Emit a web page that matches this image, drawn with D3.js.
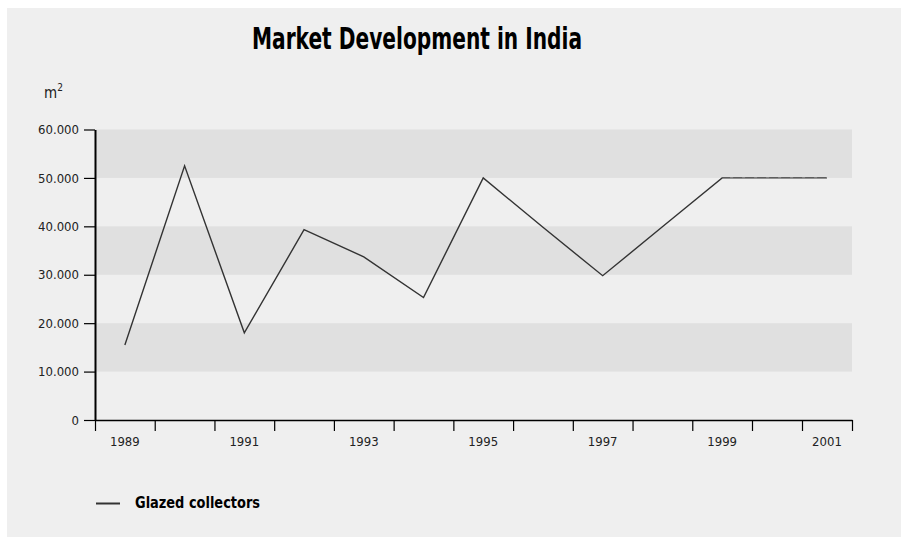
<!DOCTYPE html>
<html>
<head>
<meta charset="utf-8">
<script src="https://cdn.jsdelivr.net/npm/d3@7"></script>
<style>
    body { margin: 0; background: #fff; }
    svg { display: block; font-family: "Liberation Sans Narrow", "DejaVu Sans Condensed", "Arial Narrow", sans-serif; }
</style>
</head>
<body>
<svg id="chart" width="901" height="537"></svg>
<script>
// Data
const years = [1989, 1990, 1991, 1992, 1993, 1994, 1995, 1996, 1997, 1998, 1999, 2000, 2001];
const glazed = [15500, 52500, 18000, 39300, 33700, 25300, 50000, 39800, 29800, 39900, 50000, 50000, 50000];
const estimatedFrom = 1999;   // flat tail drawn with dotted overlay
const yTicks = [0, 10000, 20000, 30000, 40000, 50000, 60000];
const labelYears = [1989, 1991, 1993, 1995, 1997, 1999, 2001];
const bands = [[10000, 20000], [30000, 40000], [50000, 60000]];

const svg = d3.select('#chart');

// Panel background
svg.append('rect')
    .attr('x', 7).attr('y', 8)
    .attr('width', 894).attr('height', 529)
    .style('fill', '#efefef');

// Scales - last two year slots are narrower in the original
const x = d3.scaleLinear()
    .domain([1988.5, 1999.5, 2001.5])
    .range([95, 752, 852]);
const y = d3.scaleLinear()
    .domain([0, 60000])
    .range([420, 129.5]);

const fmt = d3.formatLocale({ decimal: ',', thousands: '.', grouping: [3], currency: ['', ''] }).format(',');

// Alternating bands
svg.selectAll('.band')
    .data(bands)
    .enter()
    .append('rect')
    .attr('x', x(1988.5))
    .attr('width', x(2001.5) - x(1988.5))
    .attr('y', d => y(d[1]))
    .attr('height', d => y(d[0]) - y(d[1]))
    .style('fill', '#e0e0e0');

// Title
svg.append('text')
    .attr('x', 417)
    .attr('y', 49)
    .attr('text-anchor', 'middle')
    .attr('textLength', 330)
    .attr('lengthAdjust', 'spacingAndGlyphs')
    .style('font-size', '30px')
    .style('font-weight', '700')
    .style('fill', '#000')
    .text('Market Development in India');

// Unit label
const unit = svg.append('text')
    .attr('x', 44)
    .attr('y', 97.5)
    .style('font-size', '15px')
    .style('fill', '#222');
unit.append('tspan').text('m');
unit.append('tspan').attr('dy', -7).style('font-size', '10px').text('2');

// Y-axis
const yAxis = svg.append('g')
    .attr('transform', `translate(${x(1988.5)},0)`)
    .call(d3.axisLeft(y).tickValues(yTicks).tickFormat(fmt).tickSize(11).tickSizeOuter(0).tickPadding(5));
yAxis.select('.domain').style('stroke', '#000').style('stroke-width', 2);
yAxis.selectAll('.tick line').style('stroke', '#000').style('stroke-width', 1.2);
yAxis.selectAll('text')
    .style('font-size', '13px')
    .style('fill', '#222')
    .style('font-family', '"Liberation Sans Narrow", "DejaVu Sans Condensed", sans-serif');

// X-axis: ticks on slot boundaries, labels on odd years
const boundaries = years.map(d => d - 0.5).concat([2001.5]);
const xAxis = svg.append('g')
    .attr('transform', `translate(0,${y(0)})`)
    .call(d3.axisBottom(x).tickValues(boundaries).tickFormat('').tickSize(11).tickSizeOuter(0));
xAxis.select('.domain').style('stroke', '#000').style('stroke-width', 1.5);
xAxis.selectAll('.tick line').style('stroke', '#000').style('stroke-width', 1.2);

svg.selectAll('.x-label')
    .data(labelYears)
    .enter()
    .append('text')
    .attr('class', 'x-label')
    .attr('x', d => x(d))
    .attr('y', y(0) + 26)
    .attr('text-anchor', 'middle')
    .style('font-size', '13px')
    .style('fill', '#222')
    .text(d => d);

// Series line
const series = years.map((yr, i) => ({ year: yr, value: glazed[i] }));
const line = d3.line()
    .x(d => x(d.year))
    .y(d => y(d.value));

svg.append('path')
    .datum(series)
    .attr('d', line)
    .style('fill', 'none')
    .style('stroke', '#333')
    .style('stroke-width', 1.4)
    .style('stroke-linejoin', 'miter');

// Dotted overlay on the estimated tail
svg.append('path')
    .datum(series.filter(d => d.year >= estimatedFrom))
    .attr('d', line)
    .style('fill', 'none')
    .style('stroke', '#9a9a9a')
    .style('stroke-width', 1)
    .style('stroke-dasharray', '3,9')
    .style('stroke-dashoffset', -8);

// Legend
svg.append('line')
    .attr('x1', 96).attr('x2', 120)
    .attr('y1', 503.5).attr('y2', 503.5)
    .style('stroke', '#333')
    .style('stroke-width', 2);
svg.append('text')
    .attr('x', 135)
    .attr('y', 508)
    .attr('textLength', 125)
    .attr('lengthAdjust', 'spacingAndGlyphs')
    .style('font-size', '16px')
    .style('font-weight', '700')
    .style('fill', '#000')
    .text('Glazed collectors');
</script>
</body>
</html>
